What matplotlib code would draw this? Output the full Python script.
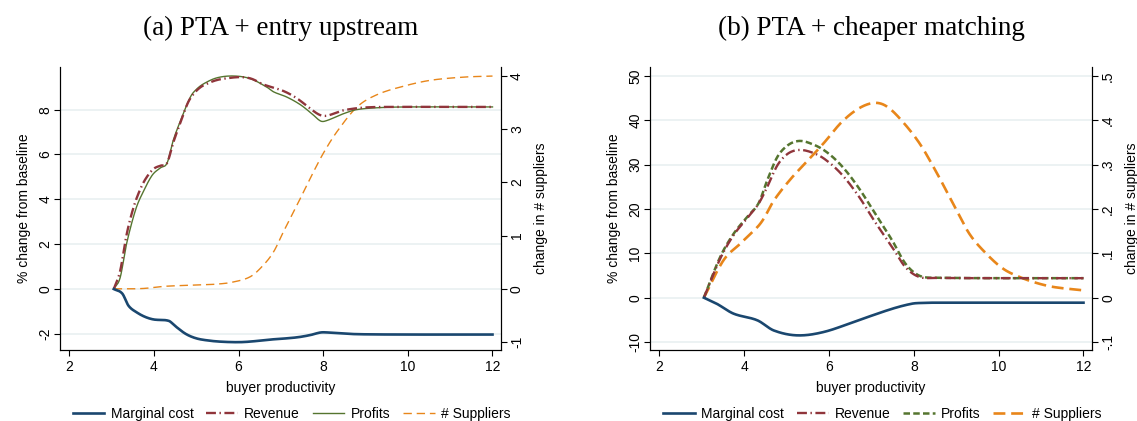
import numpy as np
import matplotlib.pyplot as plt
from matplotlib.lines import Line2D

# ---- panel (a): PTA + entry upstream ----
a_mc_x = [3.05, 3.25, 3.4, 3.6, 3.8, 4.0, 4.35, 4.5, 4.75, 5.0, 5.3, 5.6, 6.0, 6.3, 6.7, 7.0, 7.4, 7.7, 7.9, 8.0, 8.2, 8.6, 9.0, 10.0, 12.0]
a_mc_y = [0, -0.2, -0.75, -1.05, -1.25, -1.36, -1.42, -1.65, -2.0, -2.2, -2.3, -2.35, -2.37, -2.34, -2.26, -2.22, -2.15, -2.05, -1.95, -1.93, -1.95, -2.0, -2.02, -2.03, -2.03]

a_rev_x = [3.05, 3.2, 3.35, 3.52, 3.7, 3.85, 4.0, 4.15, 4.31, 4.45, 4.63, 4.8, 4.94, 5.1, 5.26, 5.45, 5.65, 6.04, 6.3, 6.59, 7.06, 7.38, 7.69, 7.9, 8.05, 8.25, 8.48, 8.95, 9.5, 12.0]
a_rev_y = [0, 0.8, 2.4, 3.66, 4.55, 5.05, 5.37, 5.5, 5.62, 6.5, 7.45, 8.3, 8.71, 9.0, 9.16, 9.3, 9.38, 9.45, 9.38, 9.12, 8.83, 8.5, 8.05, 7.78, 7.72, 7.82, 7.97, 8.09, 8.12, 8.12]

a_prof_x = [3.05, 3.2, 3.35, 3.57, 3.75, 3.96, 4.15, 4.31, 4.45, 4.63, 4.86, 5.0, 5.18, 5.49, 5.88, 6.28, 6.67, 6.83, 7.14, 7.46, 7.73, 7.94, 8.08, 8.48, 8.79, 9.34, 10.0, 12.0]
a_prof_y = [0, 0.5, 2.0, 3.56, 4.35, 5.08, 5.4, 5.62, 6.6, 7.52, 8.56, 8.9, 9.16, 9.42, 9.5, 9.38, 9.0, 8.79, 8.56, 8.22, 7.82, 7.49, 7.51, 7.82, 8.0, 8.09, 8.12, 8.12]

a_sup_x = [3.05, 3.5, 3.8, 4.3, 5.0, 5.5, 5.85, 6.28, 6.59, 6.83, 7.06, 7.30, 7.54, 7.77, 8.01, 8.32, 8.80, 9.27, 9.90, 10.53, 11.31, 12.0]
a_sup_y = [0, 0.0, 0.01, 0.05, 0.07, 0.09, 0.125, 0.23, 0.45, 0.70, 1.075, 1.45, 1.83, 2.2, 2.56, 2.95, 3.42, 3.65, 3.81, 3.92, 3.98, 4.0]

# ---- panel (b): PTA + cheaper matching ----
b_mc_x = [3.05, 3.35, 3.75, 4.31, 4.7, 5.26, 5.89, 6.69, 7.49, 7.96, 8.2, 8.44, 12.0]
b_mc_y = [0, -1.35, -3.6, -5.1, -7.4, -8.5, -7.7, -5.1, -2.5, -1.35, -1.18, -1.13, -1.13]

b_rev_x = [3.05, 3.43, 3.75, 4.07, 4.34, 4.54, 4.78, 5.02, 5.28, 5.58, 5.89, 6.29, 6.69, 7.09, 7.49, 7.8, 8.12, 8.5, 12.0]
b_rev_y = [0, 8.7, 14.1, 17.9, 21.2, 24.9, 29.8, 32.4, 33.3, 32.8, 31.3, 27.9, 23.0, 17.0, 11.4, 6.9, 4.7, 4.45, 4.4]

b_prof_x = [3.05, 3.43, 3.75, 4.07, 4.34, 4.54, 4.78, 5.02, 5.26, 5.5, 5.89, 6.29, 6.69, 7.09, 7.49, 7.8, 8.12, 8.5, 12.0]
b_prof_y = [0, 9.1, 14.4, 18.2, 21.3, 26.4, 31.7, 34.3, 35.3, 35.0, 33.2, 29.8, 24.9, 18.9, 12.9, 7.7, 5.0, 4.5, 4.4]

b_sup_x = [3.05, 3.51, 3.91, 4.31, 4.46, 4.7, 5.1, 5.5, 5.89, 6.29, 6.69, 7.05, 7.33, 7.65, 8.12, 8.52, 8.92, 9.31, 9.71, 10.11, 10.51, 10.9, 11.3, 12.0]
b_sup_y = [0, 0.084, 0.122, 0.159, 0.178, 0.219, 0.268, 0.309, 0.35, 0.395, 0.426, 0.439, 0.433, 0.406, 0.35, 0.285, 0.213, 0.144, 0.099, 0.065, 0.046, 0.033, 0.024, 0.0165]

legend_labels = ["Marginal cost", "Revenue", "Profits", "# Suppliers"]

NAVY = "#1a476f"
MAROON = "#90353b"
GREEN = "#55752f"
ORANGE = "#e8861a"
GRID = "#eaf1f2"

plt.rcParams["font.family"] = ["Liberation Sans", "DejaVu Sans"]


def smooth(x, y):
    # cubic Hermite through the read-off points
    x = np.asarray(x, float)
    y = np.asarray(y, float)
    xs, ys = [], []
    for i in range(len(x) - 1):
        x0, x1 = x[i], x[i + 1]
        y0, y1 = y[i], y[i + 1]
        m0 = (y[i + 1] - y[i - 1]) / (x[i + 1] - x[i - 1]) if i > 0 else (y1 - y0) / (x1 - x0)
        m1 = (y[i + 2] - y[i]) / (x[i + 2] - x[i]) if i + 2 < len(x) else (y1 - y0) / (x1 - x0)
        t = np.linspace(0, 1, 20, endpoint=False)
        h = x1 - x0
        h00 = 2 * t**3 - 3 * t**2 + 1
        h10 = t**3 - 2 * t**2 + t
        h01 = -2 * t**3 + 3 * t**2
        h11 = t**3 - t**2
        xs.append(x0 + t * h)
        ys.append(h00 * y0 + h10 * h * m0 + h01 * y1 + h11 * h * m1)
    xs.append([x[-1]])
    ys.append([y[-1]])
    return np.concatenate(xs), np.concatenate(ys)


def panel(rect, title, mc, rev, prof, sup, ylim, yticks, ylab, y2lim, y2ticks, y2lab, style_b):
    ax = fig.add_axes(rect)
    ax2 = ax.twinx()
    ax.set_zorder(ax2.get_zorder() + 1)
    ax.patch.set_visible(False)

    # horizontal grid at the left-axis ticks, drawn on the back axes
    scale = (y2lim[1] - y2lim[0]) / (ylim[1] - ylim[0])
    for yt in yticks:
        ax2.axhline(y2lim[0] + (yt - ylim[0]) * scale, color=GRID, lw=1.3, zorder=0)

    rev_style = dict(color=MAROON, lw=1.7, dashes=(4.2, 1.5, 0.6, 1.5))
    if style_b:
        prof_style = dict(color=GREEN, lw=1.8, dashes=(2.6, 1.3))
        sup_style = dict(color=ORANGE, lw=1.9, dashes=(4.5, 2.2))
    else:
        prof_style = dict(color=GREEN, lw=1.0)
        sup_style = dict(color=ORANGE, lw=1.0, dashes=(6, 3.5))
    mc_style = dict(color=NAVY, lw=1.9)

    ax.plot(*smooth(*mc), zorder=5, **mc_style)
    ax.plot(*smooth(*rev), zorder=4, **rev_style)
    ax.plot(*smooth(*prof), zorder=3, **prof_style)
    ax2.plot(*smooth(*sup), zorder=3, **sup_style)

    ax.set_xlim(1.78, 12.2)
    ax.set_xticks([2, 4, 6, 8, 10, 12])
    ax.set_ylim(*ylim)
    ax.set_yticks(yticks)
    ax.set_yticklabels(ylab, rotation=90, va="center")
    ax2.set_ylim(*y2lim)
    ax2.set_yticks(y2ticks)
    ax2.set_yticklabels(y2lab, rotation=90, va="center")

    for a in (ax, ax2):
        a.spines["top"].set_visible(False)
        for s in ("left", "right", "bottom"):
            a.spines[s].set_color("black")
            a.spines[s].set_linewidth(0.8)
        a.tick_params(direction="out", length=4, width=0.8, labelsize=10, colors="black")
    ax.tick_params(axis="y", pad=1.5)
    ax2.tick_params(axis="y", pad=2.5)

    ax.set_xlabel("buyer productivity", fontsize=10, labelpad=5)
    ax.set_ylabel("% change from baseline", fontsize=10, labelpad=5)
    ax2.set_ylabel("change in # suppliers", fontsize=10, labelpad=7)

    ax.set_title(title, fontsize=19.5, family=["Liberation Serif", "DejaVu Serif"], pad=23)

    handles = [Line2D([], [], **mc_style), Line2D([], [], **rev_style),
               Line2D([], [], **prof_style), Line2D([], [], **sup_style)]
    ax.legend(handles, legend_labels, ncol=4, frameon=False, fontsize=10,
              loc="center", bbox_to_anchor=(0.525, -0.225),
              handlelength=2.3, handletextpad=0.45, columnspacing=0.9,
              borderpad=0.1)
    return ax


fig = plt.figure(figsize=(11.37, 4.21), dpi=100)

panel([0.0528, 0.1686, 0.3878, 0.6722], "(a) PTA + entry upstream",
      (a_mc_x, a_mc_y), (a_rev_x, a_rev_y), (a_prof_x, a_prof_y), (a_sup_x, a_sup_y),
      (-2.72, 9.9), [-2, 0, 2, 4, 6, 8], ["-2", "0", "2", "4", "6", "8"],
      (-1.15, 4.17), [-1, 0, 1, 2, 3, 4], ["-1", "0", "1", "2", "3", "4"], False)

panel([0.5717, 0.1686, 0.3887, 0.6722], "(b) PTA + cheaper matching",
      (b_mc_x, b_mc_y), (b_rev_x, b_rev_y), (b_prof_x, b_prof_y), (b_sup_x, b_sup_y),
      (-11.8, 52), [-10, 0, 10, 20, 30, 40, 50], ["-10", "0", "10", "20", "30", "40", "50"],
      (-0.118, 0.52), [-0.1, 0, 0.1, 0.2, 0.3, 0.4, 0.5], ["-.1", "0", ".1", ".2", ".3", ".4", ".5"], True)

fig.savefig("out.png", dpi=100)
